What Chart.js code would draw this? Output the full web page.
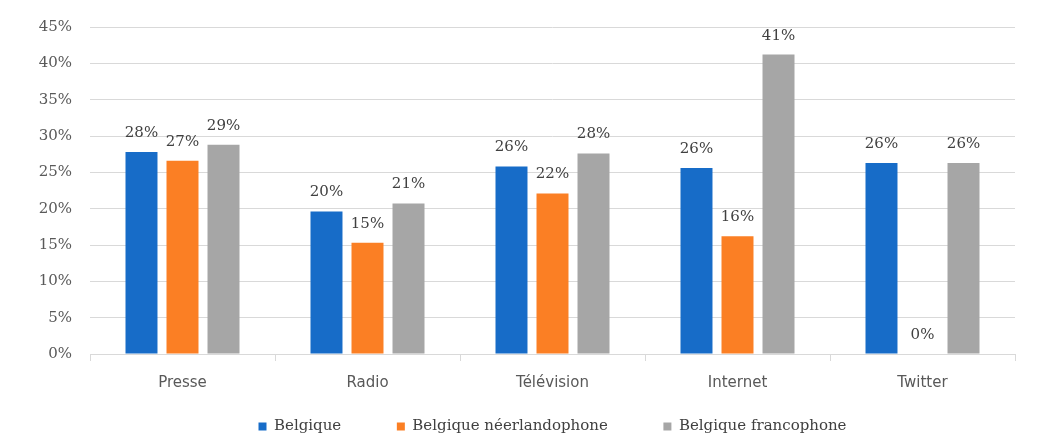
<!DOCTYPE html>
<html>
<head>
<meta charset="utf-8">
<script src="https://cdn.jsdelivr.net/npm/chart.js@4"></script>
<style>
  html, body { margin: 0; padding: 0; background: #fff; overflow: hidden; }
  #wrap { position: relative; width: 1044px; height: 444px; }
</style>
</head>
<body>
<div id="wrap"><canvas id="chart"></canvas></div>
<script>
// données (%)
const categories = ['Presse', 'Radio', 'Télévision', 'Internet', 'Twitter'];
const belgique = [27.8, 19.6, 25.8, 25.6, 26.3];
const neerlandophone = [26.6, 15.3, 22.1, 16.2, 0];
const francophone = [28.8, 20.7, 27.6, 41.2, 26.3];
const yTicks = [0, 5, 10, 15, 20, 25, 30, 35, 40, 45];

// étiquettes de valeurs au-dessus des barres
const valueLabels = {
    id: 'valueLabels',
    afterDatasetsDraw(chart) {
        const ctx = chart.ctx;
        ctx.save();
        ctx.font = '15px "DejaVu Serif"';
        ctx.fillStyle = '#404040';
        ctx.textAlign = 'center';
        ctx.textBaseline = 'middle';
        chart.data.datasets.forEach((ds, i) => {
            const meta = chart.getDatasetMeta(i);
            meta.data.forEach((bar, j) => {
                ctx.fillText(Math.round(ds.data[j]) + '%', bar.x, bar.y - 19);
            });
        });
        ctx.restore();
    }
};

new Chart(document.getElementById('chart'), {
    type: 'bar',
    data: {
        labels: categories,
        datasets: [
            { label: 'Belgique', data: belgique, backgroundColor: '#176cc8' },
            { label: 'Belgique néerlandophone', data: neerlandophone, backgroundColor: '#fb7f24' },
            { label: 'Belgique francophone', data: francophone, backgroundColor: '#a6a6a6' }
        ]
    },
    options: {
        responsive: true,
        maintainAspectRatio: false,
        animation: false,
        layout: { padding: { top: 26, right: 29, bottom: 0, left: 0 } },
        datasets: { bar: { categoryPercentage: 0.665, barPercentage: 0.78 } },
        scales: {
            x: {
                grid: { drawOnChartArea: false, drawTicks: true, tickLength: 7, color: '#d9d9d9' },
                border: { display: true, color: '#d9d9d9' },
                ticks: { color: '#595959', padding: 13, font: { family: 'DejaVu Sans', size: 15 } },
                afterFit: s => { s.height = 38; }
            },
            y: {
                min: 0,
                max: 45,
                afterBuildTicks: s => { s.ticks = yTicks.map(v => ({ value: v })); },
                grid: { color: '#d9d9d9', drawTicks: false },
                border: { display: false },
                ticks: {
                    color: '#595959',
                    padding: 18,
                    font: { family: 'DejaVu Serif', size: 15 },
                    callback: v => v + '%'
                },
                afterFit: s => { s.width = 90; }
            }
        },
        plugins: {
            legend: {
                position: 'bottom',
                fullSize: false,
                labels: {
                    boxWidth: 8,
                    boxHeight: 8,
                    padding: 27,
                    color: '#404040',
                    font: { family: 'DejaVu Serif', size: 15 },
                    // espace supplémentaire entre les entrées, comme dans l'original
                    generateLabels: chart => {
                        const items = Chart.defaults.plugins.legend.labels.generateLabels(chart);
                        items.forEach((it, i) => {
                            if (i < items.length - 1) it.text += '\u00a0'.repeat(6);
                        });
                        return items;
                    }
                }
            },
            tooltip: { enabled: false }
        }
    },
    plugins: [valueLabels]
});
</script>
</body>
</html>
